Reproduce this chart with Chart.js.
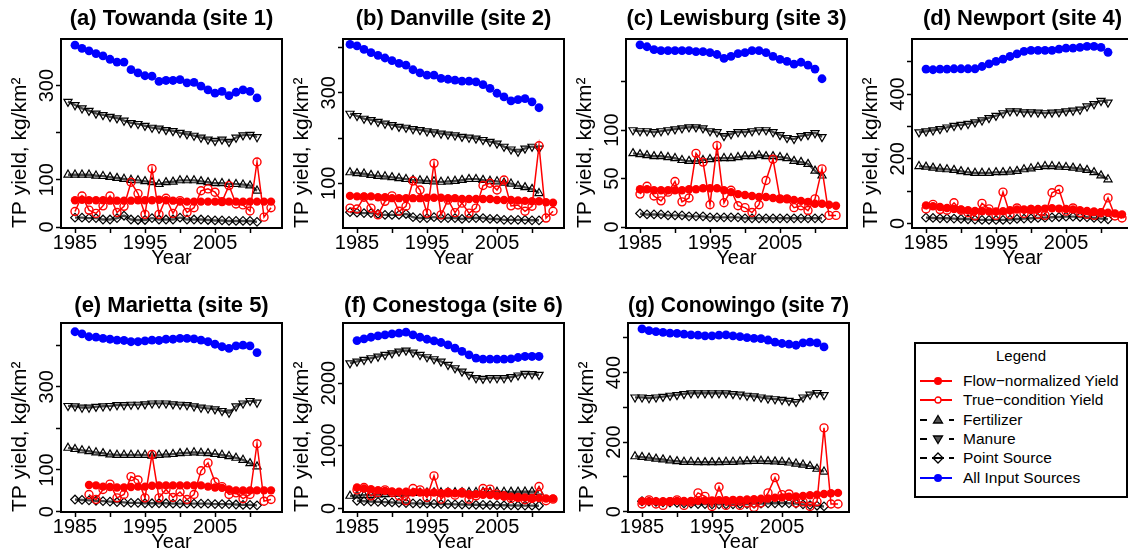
<!DOCTYPE html>
<html>
<head>
<meta charset="utf-8">
<script src="https://cdn.jsdelivr.net/npm/chart.js@4.4.1/dist/chart.umd.min.js"></script>
<style>
  body { margin: 0; width: 1128px; height: 556px; overflow: hidden; background: #fff; position: relative;
         font-family: "Liberation Sans", Arial, sans-serif; }
  canvas { position: absolute; }
  #legend { position: absolute; left: 914px; top: 342px; width: 214px; height: 156px; box-sizing: border-box;
            border: 2px solid #000; background: #fff; }
  #legend .t { position: absolute; left: 0; right: 0; top: 3px; text-align: center; font-size: 15px; }
  #legend .row { position: absolute; left: 2px; height: 16px; }
  #legend .row svg { position: absolute; left: 0; top: 1px; }
  #legend .row span { position: absolute; left: 45px; top: -1px; font-size: 15.5px; white-space: nowrap; }
</style>
</head>
<body>
<div id="legend"><div class="t">Legend</div></div>
<script>
// years
const yrsRed  = [1985,1986,1987,1988,1989,1990,1991,1992,1993,1994,1995,1996,1997,1998,1999,2000,2001,2002,2003,2004,2005,2006,2007,2008,2009,2010,2011,2012,2013];
const yrsRedB = [1984,1985,1986,1987,1988,1989,1990,1991,1992,1993,1994,1995,1996,1997,1998,1999,2000,2001,2002,2003,2004,2005,2006,2007,2008,2009,2010,2011,2012,2013];
const yrsRedE = [1987,1988,1989,1990,1991,1992,1993,1994,1995,1996,1997,1998,1999,2000,2001,2002,2003,2004,2005,2006,2007,2008,2009,2010,2011,2012,2013];
const yrsSrc  = [1984,1985,1986,1987,1988,1989,1990,1991,1992,1993,1994,1995,1996,1997,1998,1999,2000,2001,2002,2003,2004,2005,2006,2007,2008,2009,2010,2011];
const yrsAll  = [1985,1986,1987,1988,1989,1990,1991,1992,1993,1994,1995,1996,1997,1998,1999,2000,2001,2002,2003,2004,2005,2006,2007,2008,2009,2010,2011];
const xTickVals = [1985, 1990, 1995, 2000, 2005, 2010];
const xTickLabels = [1985, 1995, 2005];

// (a) Towanda
const allA  = [386,379,374,368,363,356,350,350,334,327,321,320,309,311,311,313,306,307,299,291,284,288,279,286,291,288,274];
const manA  = [266,259,252,247,241,238,234,231,226,221,219,215,211,209,206,204,200,197,194,190,186,183,186,181,190,195,196,191];
const fertA = [111,111,111,111,109,108,106,104,102,100,99,97,95,91,95,96,99,99,99,97,95,93,93,91,91,90,88,77];
const ptA   = [20,20,19,19,16,16,19,24,16,15,15,19,16,16,16,20,16,16,16,15,14,14,13,13,13,13,11];
const flowA = [57,58,57,57,57,56,56,56,56,57,57,57,58,57,56,54,54,54,54,54,54,54,54,54,54,54,54,54,54];
const trueA = [33,66,36,29,45,66,31,44,95,71,27,124,27,61,29,56,31,41,77,81,74,54,88,49,47,34,138,21,41];

// (b) Danville
const allB  = [407,404,396,389,383,377,371,365,361,351,344,339,339,332,330,328,326,326,324,318,310,299,291,282,285,287,280,267];
const manB  = [254,249,243,240,236,232,229,225,223,220,218,215,213,210,208,206,203,201,199,196,192,188,181,175,170,177,181,177];
const fertB = [124,122,121,118,116,115,113,111,109,107,106,105,104,103,104,105,107,109,109,107,105,104,101,99,94,91,87,78];
const ptB   = [36,35,34,34,32,30,30,30,32,25,23,23,25,23,23,23,21,23,23,23,21,21,19,19,19,19,18,18];
const flowB = [72,71,71,71,69,69,67,67,67,67,67,68,68,68,67,67,65,65,65,65,65,63,63,63,62,61,60,60,58,57];
const trueB = [45,43,69,45,30,60,72,38,49,105,85,34,144,30,63,35,56,34,45,95,100,85,107,50,52,38,49,183,23,38];

// (c) Lewisburg
const allC  = [188,186,183,182,182,182,182,182,181,181,180,178,174,176,179,180,182,182,180,176,173,171,168,170,167,163,153];
const manC  = [100,99,99,98,99,100,101,102,103,103,102,99,98,94,96,98,98,99,100,100,98,95,92,91,94,95,97,93];
const fertC = [76,75,74,73,73,72,71,69,68,68,69,70,71,71,71,72,73,73,74,73,73,72,71,68,67,65,58,53];
const ptC   = [14,13,13,13,12,12,12,11,11,11,10,10,10,10,10,9,9,9,9,9,9,9,9,9,9,9,9];
const flowC = [39,39,38,38,38,38,38,39,39,40,40,40,38,36,34,33,32,31,31,30,29,29,28,27,26,24,24,23,22];
const trueC = [34,42,32,27,36,47,26,30,76,67,23,84,25,38,22,20,15,23,48,70,29,29,20,22,17,29,60,12,12];

// (d) Newport
const allD  = [477,475,477,477,478,478,478,478,485,493,501,508,516,524,532,535,535,535,535,539,542,542,544,547,547,544,529];
const manD  = [282,285,288,292,297,302,305,308,313,319,326,333,341,347,347,344,344,343,341,343,344,347,349,352,362,369,379,374];
const fertD = [177,175,172,169,167,165,161,158,156,156,156,158,158,160,162,167,170,174,177,177,175,174,172,169,165,158,148,136];
const ptD   = [18,17,16,16,15,14,13,12,11,11,11,11,12,14,15,16,17,18,19,20,21,21,20,19,17,15,13];
const flowD = [56,53,51,48,45,43,41,39,38,37,37,38,41,43,43,45,45,46,47,46,45,43,41,39,37,35,33,31,28];
const trueD = [45,59,43,41,64,41,33,23,62,45,25,97,28,48,31,43,28,25,95,105,38,48,33,28,25,33,79,23,17];

// (e) Marietta
const allE  = [432,427,420,419,416,414,412,411,408,408,410,412,411,414,414,416,416,415,412,408,402,396,392,398,400,398,382];
const manE  = [254,253,250,250,252,253,254,256,256,257,257,258,260,260,260,258,257,256,253,250,248,246,242,238,253,260,266,262];
const fertE = [153,150,147,145,142,140,137,136,136,136,136,136,134,136,137,138,140,141,142,141,140,138,136,133,129,124,116,108];
const ptE   = [29,28,27,26,25,24,23,22,21,21,20,20,20,20,19,19,19,19,19,19,18,18,18,17,16,16,15];
const flowE = [64,63,60,59,58,58,59,60,60,62,63,63,63,63,63,63,63,60,58,57,53,51,51,51,51,51,51];
const trueE = [41,29,53,66,33,41,84,76,33,137,33,53,34,47,29,41,98,117,71,60,41,45,31,41,163,25,29];

// (f) Conestoga
const allF  = [2677,2704,2730,2751,2767,2783,2794,2810,2767,2730,2698,2672,2646,2608,2556,2503,2450,2397,2381,2381,2381,2381,2386,2407,2423,2423,2423];
const manF  = [2317,2344,2370,2397,2423,2450,2476,2503,2519,2487,2450,2413,2381,2344,2291,2238,2185,2132,2079,2069,2079,2079,2079,2095,2122,2148,2143,2132];
const fertF = [200,205,210,215,220,225,230,235,240,245,248,250,252,254,255,256,257,258,259,260,261,262,263,264,265,266,266,266];
const ptF   = [122,115,110,105,100,95,90,85,80,78,75,72,70,68,65,62,60,58,56,54,52,50,48,46,45,44,43];
const flowF = [333,317,307,291,280,270,265,265,254,254,254,254,243,243,243,238,228,228,217,212,201,190,185,175,175,164,164,159,159];
const trueF = [296,333,201,254,296,254,201,122,317,296,175,519,148,254,212,254,148,201,317,307,228,201,159,175,138,159,349,122,148];

// (g) Conowingo
const allG  = [526,521,518,516,514,513,511,509,508,506,506,508,509,506,504,501,499,498,494,488,484,482,479,486,488,486,474];
const manG  = [329,329,327,329,331,334,336,339,341,341,341,341,341,341,339,337,334,332,329,326,324,322,319,316,329,337,342,336];
const fertG = [159,157,155,152,150,147,145,143,143,142,142,142,142,143,143,144,145,146,146,145,144,143,141,138,135,131,123,115];
const ptG   = [30,29,28,27,26,25,24,23,22,22,21,21,21,21,22,22,23,23,24,24,25,24,23,21,19,17,15];
const flowG = [30,30,30,30,30,31,31,31,31,32,32,33,33,34,34,35,36,37,38,40,41,43,44,45,47,49,51,53,54];
const trueG = [22,34,22,18,29,34,18,28,54,44,15,71,18,29,18,25,12,25,54,98,49,51,25,28,15,29,241,22,22];

const legendLabels = ['Flow\u2212normalized Yield', 'True\u2212condition Yield', 'Fertilizer', 'Manure', 'Point Source', 'All Input Sources'];

const RED = '#ff0000', BLUE = '#0000ff', GREY = '#4a4a4a';
const FONT = '"Liberation Sans", Arial, sans-serif';
Chart.defaults.font.family = FONT;
Chart.defaults.color = '#000';

const panels = [
  { title: '(a) Towanda (site 1)',   left: 61,  top: 39,  yMin: -2,  yMax: 399,  yTicks: [0,100,200,300],              yLabels: [0,100,300],
    red: yrsRed,  inpYrs: yrsAll, ptYrs: yrsAll, flow: flowA, tru: trueA, fert: fertA, man: manA, pt: ptA, inp: allA },
  { title: '(b) Danville (site 2)',  left: 343, top: 39,  yMin: 1,   yMax: 419,  yTicks: [100,200,300,400],            yLabels: [100,300],
    red: yrsRedB, inpYrs: yrsSrc, ptYrs: yrsSrc, flow: flowB, tru: trueB, fert: fertB, man: manB, pt: ptB, inp: allB },
  { title: '(c) Lewisburg (site 3)', left: 626, top: 39,  yMin: -1,  yMax: 194,  yTicks: [0,50,100,150],               yLabels: [0,50,100],
    red: yrsRed,  inpYrs: yrsAll, ptYrs: yrsAll, flow: flowC, tru: trueC, fert: fertC, man: manC, pt: ptC, inp: allC },
  { title: '(d) Newport (site 4)',   left: 912, top: 39,  yMin: -14, yMax: 570,  yTicks: [0,100,200,300,400,500],      yLabels: [0,200,400],
    red: yrsRed,  inpYrs: yrsAll, ptYrs: yrsAll, flow: flowD, tru: trueD, fert: fertD, man: manD, pt: ptD, inp: allD },
  { title: '(e) Marietta (site 5)',  left: 61,  top: 323, yMin: -1,  yMax: 453,  yTicks: [0,100,200,300,400],          yLabels: [0,100,300],
    red: yrsRedE, inpYrs: yrsAll, ptYrs: yrsAll, flow: flowE, tru: trueE, fert: fertE, man: manE, pt: ptE, inp: allE },
  { title: '(f) Conestoga (site 6)', left: 343, top: 323, yMin: -57, yMax: 2957, yTicks: [0,500,1000,1500,2000,2500],  yLabels: [0,1000,2000],
    red: yrsRed,  inpYrs: yrsAll, ptYrs: yrsAll, flow: flowF, tru: trueF, fert: fertF, man: manF, pt: ptF, inp: allF },
  { title: '(g) Conowingo (site 7)', left: 628, top: 323, yMin: -1,  yMax: 543,  yTicks: [0,100,200,300,400,500],      yLabels: [0,200,400],
    red: yrsRed,  inpYrs: yrsAll, ptYrs: yrsAll, flow: flowG, tru: trueG, fert: fertG, man: manG, pt: ptG, inp: allG }
];

const pts = (xs, ys) => ys.map((y, i) => ({ x: xs[i], y: y }));

const boxPlugin = {
  id: 'box',
  afterDatasetsDraw(chart) {
    const a = chart.chartArea, ctx = chart.ctx;
    ctx.save();
    ctx.strokeStyle = '#000';
    ctx.lineWidth = 2;
    ctx.strokeRect(a.left, a.top, a.right - a.left, a.bottom - a.top);
    ctx.restore();
  }
};

const meas = document.createElement('canvas').getContext('2d');
meas.font = '20px ' + FONT;

function blackSeries(label, data, style, rot, r) {
  return {
    label: label, data: data, borderColor: GREY, borderWidth: 2.4, cubicInterpolationMode: 'monotone',
    pointStyle: style, pointRotation: rot, pointRadius: r, pointBorderColor: '#000', pointBorderWidth: 1.2,
    pointBackgroundColor: 'rgba(255,255,255,0)'
  };
}

panels.forEach(p => {
  const cv = document.createElement('canvas');
  cv.width = 286; cv.height = 280;
  cv.style.left = (p.left - 61) + 'px';
  cv.style.top = (p.top - 39) + 'px';
  document.body.appendChild(cv);

  const widest = Math.max(...p.yLabels.map(v => meas.measureText(String(v)).width));
  const row2 = p.top > 200;

  new Chart(cv, {
    type: 'line',
    data: {
      datasets: [
        { label: legendLabels[1], data: pts(p.red, p.tru), borderColor: RED, borderWidth: 1.5,
          pointRadius: 4, pointBorderColor: RED, pointBorderWidth: 1.4, pointBackgroundColor: 'rgba(255,255,255,0)' },
        { label: legendLabels[0], data: pts(p.red, p.flow), borderColor: RED, borderWidth: 2.5,
          pointRadius: 4.2, pointBorderColor: RED, pointBorderWidth: 0, pointBackgroundColor: RED },
        { label: legendLabels[5], data: pts(p.inpYrs, p.inp), showLine: false, borderColor: BLUE,
          pointRadius: 4.4, pointBorderWidth: 0, pointBackgroundColor: BLUE },
        blackSeries(legendLabels[4], pts(p.ptYrs, p.pt), 'rectRot', 0, 4.3),
        blackSeries(legendLabels[3], pts(yrsSrc, p.man), 'triangle', 180, 4.7),
        blackSeries(legendLabels[2], pts(yrsSrc, p.fert), 'triangle', 0, 4.7)
      ]
    },
    options: {
      responsive: false, animation: false,
      layout: { padding: { left: 0, right: 4, top: 0, bottom: 2 }, autoPadding: false },
      plugins: {
        legend: { display: false }, tooltip: { enabled: false },
        title: { display: true, text: p.title, fullSize: false, color: '#000',
                 font: { size: 22, weight: 'bold', lineHeight: 1.2 },
                 padding: row2 ? { top: 8.8, bottom: 3.8 } : { top: 5.8, bottom: 6.8 } }
      },
      scales: {
        x: {
          type: 'linear', min: 1983, max: 2014.57,
          afterBuildTicks: s => { s.ticks = xTickVals.map(v => ({ value: v })); },
          afterFit: s => { s.height = 50; },
          ticks: { autoSkip: false, maxRotation: 0, padding: -2, font: { size: 20 }, color: '#000',
                   callback: v => xTickLabels.includes(v) ? String(v) : '' },
          grid: { drawOnChartArea: false, tickLength: 5, tickColor: '#000', tickWidth: 1.5 },
          border: { display: false },
          title: { display: true, text: 'Year', font: { size: 20 }, color: '#000', padding: { top: 0, bottom: 8 } }
        },
        y: {
          type: 'linear', min: p.yMin, max: p.yMax,
          afterBuildTicks: s => { s.ticks = p.yTicks.map(v => ({ value: v })); },
          afterFit: s => { s.width = 61; },
          ticks: { minRotation: 90, maxRotation: 90, crossAlign: 'center', padding: 9 - widest / 2,
                   font: { size: 20 }, color: '#000',
                   callback: v => p.yLabels.includes(v) ? String(v) : '' },
          grid: { drawOnChartArea: false, tickLength: 5, tickColor: '#000', tickWidth: 1.5 },
          border: { display: false },
          title: { display: true, text: 'TP yield, kg/km\u00b2', align: 'start', font: { size: 21 }, color: '#000',
                   padding: { top: 7.4, bottom: 0 } }
        }
      }
    },
    plugins: [boxPlugin]
  });
});

// legend box
const lg = document.getElementById('legend');
const symbols = [
  '<line x1="2" y1="7" x2="34" y2="7" stroke="' + RED + '" stroke-width="2"/><circle cx="20" cy="7" r="4" fill="' + RED + '"/>',
  '<line x1="2" y1="7" x2="34" y2="7" stroke="' + RED + '" stroke-width="2"/><circle cx="20" cy="7" r="3" fill="#fff" stroke="' + RED + '" stroke-width="1.3"/>',
  '<line x1="2" y1="7" x2="9" y2="7" stroke="#000" stroke-width="2"/><line x1="31" y1="7" x2="36" y2="7" stroke="#000" stroke-width="2"/><path d="M20 2.5 L24.5 10 L15.5 10 Z" fill="#555" stroke="#000" stroke-width="1.3"/>',
  '<line x1="2" y1="7" x2="9" y2="7" stroke="#000" stroke-width="2"/><line x1="31" y1="7" x2="36" y2="7" stroke="#000" stroke-width="2"/><path d="M20 11.5 L24.5 4 L15.5 4 Z" fill="#555" stroke="#000" stroke-width="1.3"/>',
  '<line x1="2" y1="7" x2="9" y2="7" stroke="#000" stroke-width="2"/><line x1="31" y1="7" x2="36" y2="7" stroke="#000" stroke-width="2"/><line x1="14" y1="7" x2="26" y2="7" stroke="#000" stroke-width="2"/><path d="M20 2 L25 7 L20 12 L15 7 Z" fill="none" stroke="#000" stroke-width="1.3"/>',
  '<line x1="2" y1="7" x2="34" y2="7" stroke="' + BLUE + '" stroke-width="2"/><circle cx="20" cy="7" r="4" fill="' + BLUE + '"/>'
];
legendLabels.forEach((t, i) => {
  const row = document.createElement('div');
  row.className = 'row';
  row.style.top = (29 + i * 19.3) + 'px';
  row.innerHTML = '<svg width="40" height="14">' + symbols[i] + '</svg><span></span>';
  row.querySelector('span').textContent = t;
  lg.appendChild(row);
});
</script>
</body>
</html>
